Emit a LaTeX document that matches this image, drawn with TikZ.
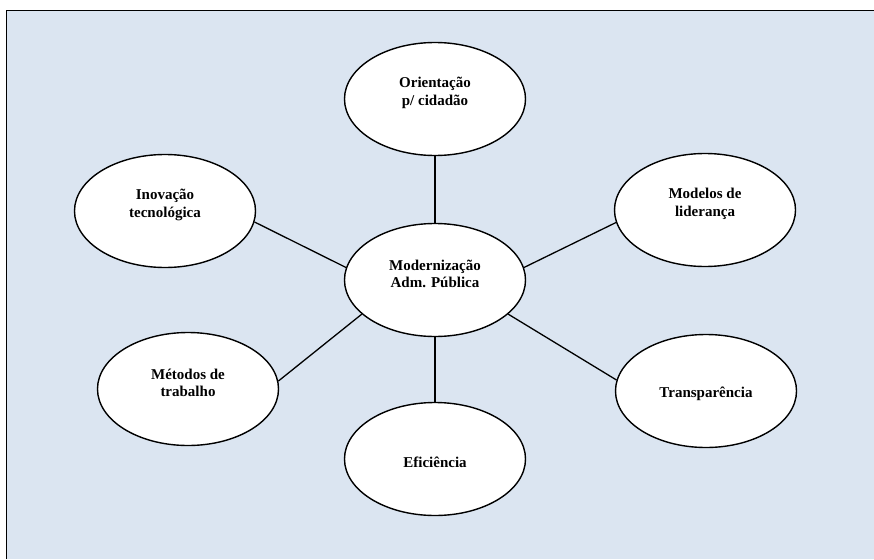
\documentclass[tikz,border=0pt]{standalone}
\usepackage{fontspec}
\setmainfont{Liberation Serif}
\usetikzlibrary{shapes.geometric}
\definecolor{panel}{HTML}{DBE5F1}
\begin{document}
\begin{tikzpicture}[x=1pt,y=-1pt,
  bub/.style={ellipse,draw=black,line width=1.4pt,fill=white,
    minimum width=181pt,minimum height=113pt,inner sep=0pt},
  txt/.style={font=\bfseries\fontsize{15}{17.5}\selectfont,align=center,inner sep=0pt},
  two/.style={txt,yshift=6pt},
  one/.style={txt,yshift=-3pt},
  link/.style={draw=black,line width=1.3pt}]
\useasboundingbox (0,0) rectangle (874,559);
% panel with its top and left rule
\fill[panel] (6,10) rectangle (874,559);
\draw[line width=0.9pt] (6,559) -- (6,10) -- (874,10);

% bubbles
\node[bub,label={[two]center:{Orientação\\p/ cidadão}}] (ori) at (435,99) {};
\node[bub,label={[two]center:{Modernização\\Adm. Pública}}] (cen) at (435,280) {};
\node[bub,label={[two]center:{Inovação\\tecnológica}}] (ino) at (165,211) {};
\node[bub,label={[two]center:{Modelos de\\liderança}}] (mod) at (705,210) {};
\node[bub,label={[two]center:{Métodos de\\trabalho}}] (met) at (188,389) {};
\node[bub,label={[one]center:{Transparência}}] (tra) at (706,391) {};
\node[bub,label={[one]center:{Eficiência}}] (eff) at (435,459) {};

% spokes
\draw[link] (ori.south) -- (cen.north);
\draw[link] (cen.south) -- (eff.north);
\draw[link] (ino.-7.6) -- (cen.172);
\draw[link] (mod.-172.3) -- (cen.8.3);
\draw[link] (met.5.8) -- (cen.205.6);
\draw[link] (tra.173.6) -- (cen.-25.6);
\end{tikzpicture}
\end{document}
